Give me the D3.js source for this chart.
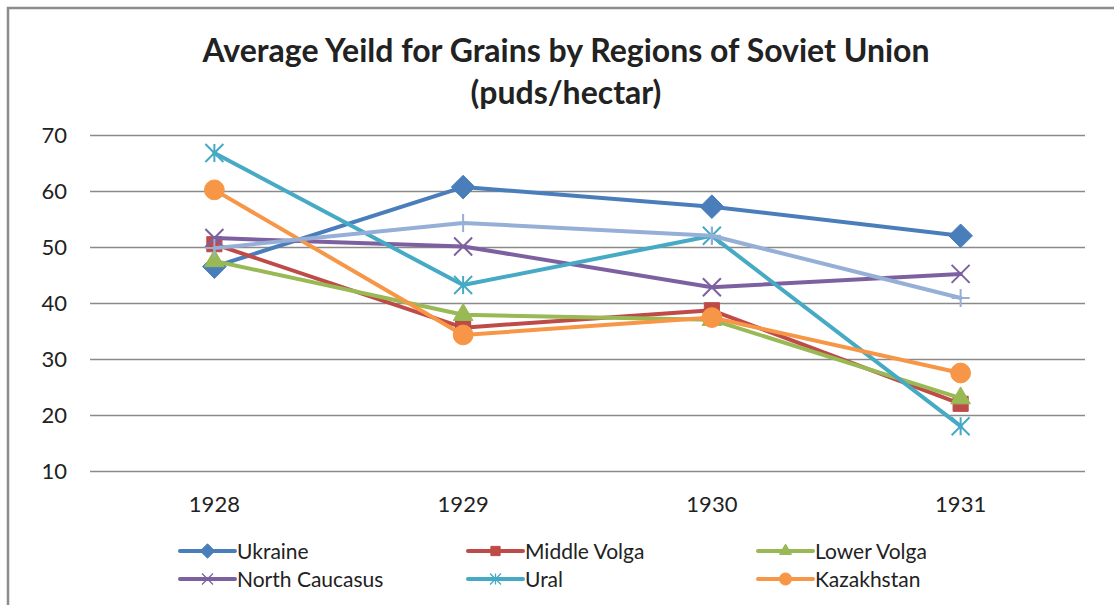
<!DOCTYPE html>
<html>
<head>
<meta charset="utf-8">
<script src="https://cdn.jsdelivr.net/npm/d3@7"></script>
<style>
    body { margin: 0; background: #fff; }
    svg text { fill: #222; }
</style>
</head>
<body>
<div class="chart"></div>
<script>
const years = ["1928", "1929", "1930", "1931"];
const yTicks = [10, 20, 30, 40, 50, 60, 70];

const ukraine = [46.5, 60.7, 57.2, 52.0];
const middleVolga = [50.5, 35.6, 38.7, 22.0];
const lowerVolga = [47.5, 37.9, 37.0, 23.0];
const northCaucasus = [51.6, 50.1, 42.8, 45.2];
const ural = [66.8, 43.2, 52.0, 18.0];
const kazakhstan = [60.2, 34.3, 37.4, 27.5];
const seventh = [49.8, 54.3, 52.0, 40.9];

const names = ["Ukraine", "Middle Volga", "Lower Volga", "North Caucasus", "Ural", "Kazakhstan", ""];

const series = [
    { name: names[0], values: ukraine, color: "#4a7ebb", marker: "diamond" },
    { name: names[1], values: middleVolga, color: "#be4b48", marker: "square" },
    { name: names[2], values: lowerVolga, color: "#98b954", marker: "triangle" },
    { name: names[3], values: northCaucasus, color: "#7d60a0", marker: "x" },
    { name: names[4], values: ural, color: "#46aac5", marker: "star" },
    { name: names[5], values: kazakhstan, color: "#f79646", marker: "circle" },
    { name: names[6], values: seventh, color: "#95afd6", marker: "plus" }
];

const width = 1114;
const height = 605;
const font = "Lato, sans-serif";

const svg = d3.select(".chart")
    .append("svg")
    .attr("width", width)
    .attr("height", height)
    .attr("font-family", font);

// outer frame (only left/top show in the crop)
svg.append("rect")
    .attr("x", 8).attr("y", 8)
    .attr("width", 1130).attr("height", 640)
    .attr("fill", "none")
    .attr("stroke", "#8c8c8c")
    .attr("stroke-width", 2.5);

svg.append("text")
    .attr("x", 566).attr("y", 62)
    .attr("text-anchor", "middle")
    .attr("font-size", "32px")
    .attr("font-weight", "bold")
    .text("Average Yeild for Grains by Regions of Soviet Union");
svg.append("text")
    .attr("x", 566).attr("y", 104)
    .attr("text-anchor", "middle")
    .attr("font-size", "32px")
    .attr("font-weight", "bold")
    .text("(puds/hectar)");

const x = d3.scaleBand().domain(years).range([90, 1085]);
const y = d3.scaleLinear().domain([10, 70]).range([471, 135]);

// gridlines + y labels
const yAxis = svg.append("g")
    .attr("transform", "translate(90,0)")
    .call(d3.axisLeft(y).tickValues(yTicks).tickSize(-995).tickPadding(23))
yAxis.select(".domain").remove();
yAxis.selectAll("line").attr("stroke", "#8a8a8a").attr("stroke-width", 1.5);
yAxis.selectAll("text")
    .attr("font-size", "22px")
    .attr("font-family", font)
    .attr("fill", "#222");

const xAxis = svg.append("g")
    .attr("transform", "translate(0,471)")
    .call(d3.axisBottom(x).tickSize(0).tickPadding(25));
xAxis.select(".domain").remove();
xAxis.selectAll("text")
    .attr("font-size", "22px")
    .attr("font-family", font)
    .attr("fill", "#222");

function markerPath(type, s) {
    if (type == "diamond") return d3.symbol(d3.symbolDiamond2, s * s * 1.1)();
    if (type == "square") return d3.symbol(d3.symbolSquare2, s * s * 0.9)();
    if (type == "triangle") return d3.symbol(d3.symbolTriangle2, s * s * 0.85)();
    if (type == "circle") return d3.symbol(d3.symbolCircle, s * s * 0.95)();
    let h = s / 2;
    if (type == "x") return `M${-h},${-h}L${h},${h}M${-h},${h}L${h},${-h}`;
    if (type == "plus") return `M0,${-h}L0,${h}M${-h},0L${h},0`;
    if (type == "star") return `M${-h},${-h}L${h},${h}M${-h},${h}L${h},${-h}M0,${-h}L0,${h}`;
}
function isOpen(type) {
    return type == "x" || type == "plus" || type == "star";
}

const line = d3.line()
    .x((d, i) => x(years[i]) + x.bandwidth() / 2)
    .y(d => y(d));

series.forEach(function (s) {
    const g = svg.append("g");
    g.append("path")
        .attr("d", line(s.values))
        .attr("fill", "none")
        .attr("stroke", s.color)
        .attr("stroke-width", 4)
        .attr("stroke-linejoin", "round")
        .attr("stroke-linecap", "round");
    g.selectAll("path.mk")
        .data(s.values)
        .enter()
        .append("path")
        .attr("class", "mk")
        .attr("transform", (d, i) => `translate(${x(years[i]) + x.bandwidth() / 2},${y(d)})`)
        .attr("d", markerPath(s.marker, 18))
        .attr("fill", isOpen(s.marker) ? "none" : s.color)
        .attr("stroke", s.color)
        .attr("stroke-width", isOpen(s.marker) ? 2 : 1);
});

// legend
const legX = [180, 468, 758];
const legY = [551, 579];
series.forEach(function (s, i) {
    const lx = legX[i % 3];
    const ly = legY[Math.floor(i / 3)] || 625;
    const g = svg.append("g").attr("transform", `translate(${lx},${ly})`);
    g.append("line")
        .attr("x1", 0).attr("x2", 55)
        .attr("stroke", s.color)
        .attr("stroke-width", 4)
        .attr("stroke-linecap", "round");
    g.append("path")
        .attr("transform", "translate(27.5,0)")
        .attr("d", markerPath(s.marker, 11))
        .attr("fill", isOpen(s.marker) ? "none" : s.color)
        .attr("stroke", s.color)
        .attr("stroke-width", isOpen(s.marker) ? 1.3 : 1);
    g.append("text")
        .attr("x", 57).attr("y", 7.5)
        .attr("font-size", "21px")
        .text(s.name);
});
</script>
</body>
</html>
